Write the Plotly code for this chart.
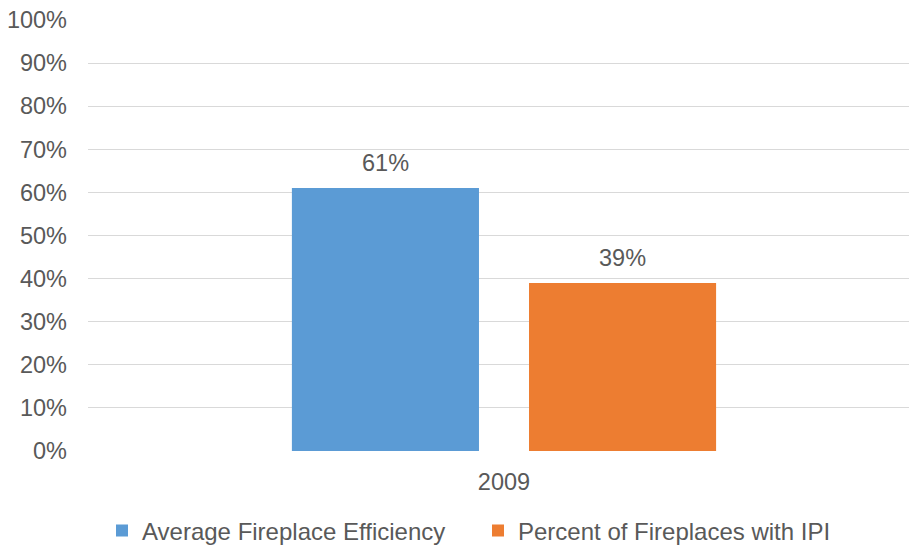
import plotly.graph_objects as go

categories = ["2009"]
series_names = ["Average Fireplace Efficiency", "Percent of Fireplaces with IPI"]
series_values = [[61], [39]]
series_colors = ["#5B9BD5", "#ED7D31"]
y_ticks = list(range(0, 101, 10))
y_tick_labels = [f"{v}%" for v in y_ticks]

FONT = "Liberation Sans, Arial, sans-serif"
TEXT = "#595959"

fig = go.Figure()
for name, vals, color in zip(series_names, series_values, series_colors):
    fig.add_trace(go.Bar(
        x=categories, y=vals, name=name,
        marker=dict(color=color, line=dict(width=0)),
        cliponaxis=False,
    ))

# value labels above each bar (bars sit at +/- one half group slot from the category centre);
# numeric-looking category names are placed by their index on the category axis
bar_offsets = [-118.5, 118.5]
for vals, dx in zip(series_values, bar_offsets):
    for i, v in enumerate(vals):
        fig.add_annotation(x=i, y=v, xref="x", yref="y", text=f"{v}%",
                           showarrow=False, xshift=dx, yanchor="bottom", yshift=10,
                           font=dict(size=23.5, color=TEXT, family=FONT))

fig.update_layout(
    width=909, height=546,
    margin=dict(l=88, r=0, t=20, b=95),
    paper_bgcolor="white", plot_bgcolor="white",
    font=dict(family=FONT, size=23.5, color=TEXT),
    barmode="group", bargap=0.43, bargroupgap=0.211,
    showlegend=True,
    legend=dict(orientation="h", xref="container", x=102 / 909, xanchor="left",
                yref="container", y=(546 - 531) / 546, yanchor="middle",
                font=dict(size=24, color=TEXT, family=FONT),
                entrywidth=331, entrywidthmode="pixels", traceorder="normal"),
    xaxis=dict(type="category", range=[-0.5, 0.4868], showgrid=False, zeroline=False,
               showline=False, ticks="", ticklabelstandoff=14,
               tickfont=dict(size=23.5, color=TEXT)),
    yaxis=dict(range=[0, 100], tickvals=y_ticks, ticktext=y_tick_labels,
               showgrid=True, gridcolor="#D9D9D9", gridwidth=1.3,
               zeroline=False, showline=False, ticks="",
               ticklabelstandoff=20, tickfont=dict(size=23.5, color=TEXT)),
)

fig.write_html("out.html")
